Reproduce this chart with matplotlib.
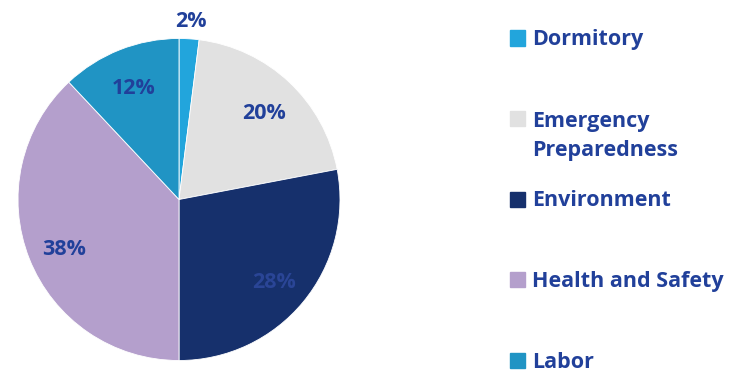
import numpy as np
import matplotlib.pyplot as plt
from matplotlib.patches import Rectangle

categories = ["Dormitory", "Emergency\nPreparedness", "Environment", "Health and Safety", "Labor"]
shares = [2, 20, 28, 38, 12]
colors = ["#22A5DC", "#E1E1E1", "#16306C", "#B49FCC", "#2094C4"]
label_color = "#21409A"

plt.rcParams['font.family'] = ['Open Sans', 'DejaVu Sans']

W, H = 745, 371
fig = plt.figure(figsize=(W / 100, H / 100), dpi=100)

# pie axes: centre (179, 199.5) px, radius 161 px
cx, cy, r = 179, 199.5, 161
ax = fig.add_axes([(cx - r) / W, 1 - (cy + r) / H, 2 * r / W, 2 * r / H])
wedges, texts, autotexts = ax.pie(
    shares, colors=colors, startangle=90, counterclock=False,
    autopct='%1.0f%%', pctdistance=0.77,
    wedgeprops=dict(linewidth=0.6, edgecolor='white'),
    textprops=dict(color=label_color, fontsize=15.5, fontweight='bold'))
ax.set_xlim(-1, 1)
ax.set_ylim(-1, 1)
ax.set_aspect('equal')
ax.axis('off')

# small slice label goes outside the pie, others nudged a little down
for k, (w, t) in enumerate(zip(wedges, autotexts)):
    ang = np.deg2rad((w.theta1 + w.theta2) / 2)
    d = 1.13 if k == 0 else 0.77
    t.set_position((d * np.cos(ang), d * np.sin(ang) - 0.025))
autotexts[2].set_color("#2A4596")

# legend drawn by hand to get the wide spacing
for i, (name, col) in enumerate(zip(categories, colors)):
    y = 38 + i * 80.5
    fig.patches.append(Rectangle((510 / W, 1 - (y + 7.5) / H), 15 / W, 15 / H,
                                 transform=fig.transFigure, color=col))
    ty = y + 2 + (name.count('\n') * 15.5)
    fig.text(532 / W, 1 - ty / H, name, ha='left', va='center',
             color=label_color, fontsize=15.5, fontweight='bold', linespacing=1.44)

fig.savefig('out.png', dpi=100)
